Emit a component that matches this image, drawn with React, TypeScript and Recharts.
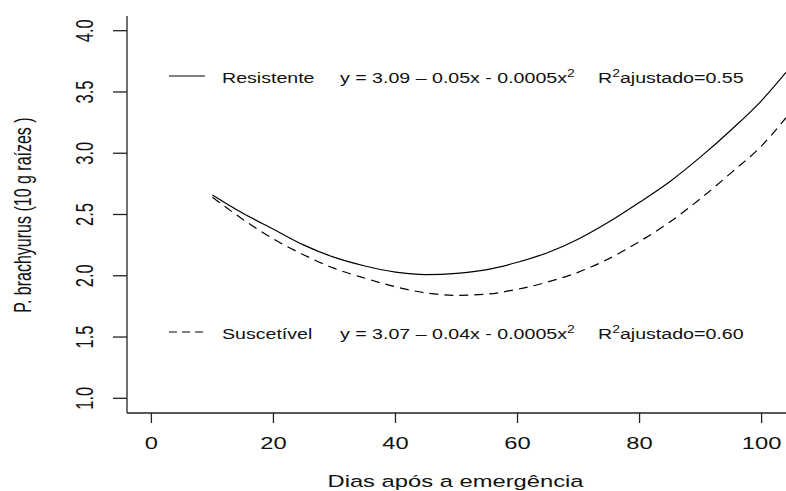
import React from "react";
import { LineChart, Line, XAxis, YAxis, Customized } from "recharts";

const xValues = [10, 15, 20, 25, 30, 35, 40, 45, 50, 55, 60, 65, 70, 75, 80, 85, 90, 95, 100, 104];
const resistente = [2.66, 2.51, 2.38, 2.25, 2.15, 2.08, 2.03, 2.01, 2.02, 2.05, 2.11, 2.19, 2.3, 2.44, 2.6, 2.77, 2.97, 3.19, 3.43, 3.66];
const suscetivel = [2.64, 2.46, 2.3, 2.17, 2.06, 1.98, 1.91, 1.86, 1.84, 1.85, 1.89, 1.95, 2.03, 2.14, 2.28, 2.44, 2.63, 2.84, 3.06, 3.29];
const xTicks = [0, 20, 40, 60, 80, 100];
const yTicks = [1.0, 1.5, 2.0, 2.5, 3.0, 3.5, 4.0];

const data = xValues.map((x, i) => ({ x, resistente: resistente[i], suscetivel: suscetivel[i] }));

const FONT = "'Liberation Sans', Arial, sans-serif";
const SX = 1.44;
const INK = "#111";
const AXIS = "#222";

const XTick = (props: any) => {
  const { x, y, payload } = props;
  return (
    <text
      transform={`translate(${x},${y + 26}) scale(${SX},1)`}
      textAnchor="middle"
      fontFamily={FONT}
      fontSize={16.5}
      fill={INK}
    >
      {payload.value}
    </text>
  );
};

const YTick = (props: any) => {
  const { x, y, payload } = props;
  return (
    <text
      transform={`translate(${x - 20},${y}) scale(${SX},1) rotate(-90)`}
      textAnchor="middle"
      fontFamily={FONT}
      fontSize={16.5}
      fill={INK}
    >
      {Number(payload.value).toFixed(1)}
    </text>
  );
};

const LS = 1.4;
const LF = 14;

const Txt = ({ x, y, children }: any) => (
  <text transform={`translate(${x},${y}) scale(${LS},1)`} fontFamily={FONT} fontSize={LF} fill={INK}>
    {children}
  </text>
);

const Annotations = () => (
  <g>
    <text
      transform={`translate(455.5,487) scale(${SX},1)`}
      textAnchor="middle"
      fontFamily={FONT}
      fontSize={16.5}
      fill={INK}
    >
      Dias após a emergência
    </text>
    <text
      transform={`translate(31,215) scale(${SX},1) rotate(-90)`}
      textAnchor="middle"
      fontFamily={FONT}
      fontSize={16}
      fill={INK}
    >
      P. brachyurus (10 g raízes )
    </text>

    <line x1={169} y1={76} x2={205} y2={76} stroke="#000" strokeWidth={1.2} />
    <Txt x={222} y={83}>Resistente</Txt>
    <Txt x={340} y={83}>
      y = 3.09 – 0.05x - 0.0005x<tspan dy={-6} fontSize={10}>2</tspan>
    </Txt>
    <Txt x={598} y={83}>
      R<tspan dy={-6} fontSize={10}>2</tspan>
      <tspan dy={6}>ajustado=0.55</tspan>
    </Txt>

    <line x1={169} y1={332} x2={203} y2={332} stroke="#000" strokeWidth={1.2} strokeDasharray="8 5" />
    <Txt x={222} y={339}>Suscetível</Txt>
    <Txt x={340} y={339}>
      y = 3.07 – 0.04x - 0.0005x<tspan dy={-6} fontSize={10}>2</tspan>
    </Txt>
    <Txt x={598} y={339}>
      R<tspan dy={-6} fontSize={10}>2</tspan>
      <tspan dy={6}>ajustado=0.60</tspan>
    </Txt>
  </g>
);

export default function App() {
  return (
    <div style={{ position: "absolute", left: 0, top: 0, width: 786, height: 491, background: "#fff" }}>
      <LineChart width={786} height={491} data={data} margin={{ top: 16, right: 0, bottom: 0, left: 0 }}>
        <XAxis
          type="number"
          dataKey="x"
          domain={[-4, 104]}
          ticks={xTicks}
          height={78}
          tickSize={10}
          tickMargin={0}
          axisLine={{ stroke: AXIS, strokeWidth: 1.3 }}
          tickLine={{ stroke: AXIS, strokeWidth: 1.3 }}
          tick={<XTick />}
          interval={0}
        />
        <YAxis
          type="number"
          domain={[0.88, 4.12]}
          ticks={yTicks}
          width={127}
          tickSize={14}
          tickMargin={0}
          axisLine={{ stroke: AXIS, strokeWidth: 1.3 }}
          tickLine={{ stroke: AXIS, strokeWidth: 1.3 }}
          tick={<YTick />}
          interval={0}
        />
        <Line
          type="monotone"
          dataKey="resistente"
          stroke="#000"
          strokeWidth={1.2}
          dot={false}
          isAnimationActive={false}
        />
        <Line
          type="monotone"
          dataKey="suscetivel"
          stroke="#000"
          strokeWidth={1.2}
          strokeDasharray="9 6"
          dot={false}
          isAnimationActive={false}
        />
        <Customized component={<Annotations />} />
      </LineChart>
    </div>
  );
}
